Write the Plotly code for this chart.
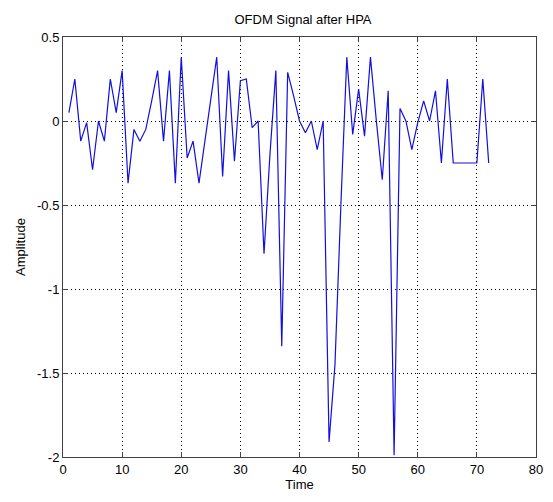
import plotly.graph_objects as go

time = list(range(1, 73))
amplitude = [
    0.05, 0.25, -0.12, -0.01, -0.29, 0.0, -0.12, 0.25, 0.05, 0.30,
    -0.37, -0.05, -0.12, -0.05, 0.12, 0.30, -0.12, 0.30, -0.37, 0.38,
    -0.22, -0.12, -0.37, -0.11, 0.13, 0.38, -0.33, 0.30, -0.24, 0.24,
    0.25, -0.04, 0.0, -0.79, -0.20, 0.30, -1.34, 0.29, 0.15, 0.0,
    -0.07, 0.0, -0.17, 0.0, -1.91, -1.45, -0.50, 0.38, -0.08, 0.19,
    -0.09, 0.38, 0.0, -0.35, 0.18, -1.99, 0.075, 0.0, -0.17, -0.01,
    0.12, 0.0, 0.18, -0.25, 0.25, -0.25, -0.25, -0.25, -0.25, -0.25,
    0.25, -0.25,
]
x_ticks = [0, 10, 20, 30, 40, 50, 60, 70, 80]
y_ticks = [0.5, 0, -0.5, -1, -1.5, -2]
y_tick_text = ["0.5", "0", "-0.5", "-1", "-1.5", "-2"]

fig = go.Figure()
fig.add_trace(go.Scatter(x=time, y=amplitude, mode="lines",
                         line=dict(color="#1010e0", width=1.2), showlegend=False))

font = dict(family="Liberation Sans, Arial, sans-serif", size=13, color="#000000")
axis_common = dict(
    showline=True, linecolor="#404040", linewidth=1, mirror="ticks",
    ticks="inside", ticklen=5, tickcolor="#404040",
    showgrid=True, gridcolor="#000000", gridwidth=1, griddash="1px,3px",
    zeroline=False, tickfont=font,
)
fig.update_xaxes(range=[0, 80], tickvals=x_ticks,
                 title=dict(text="Time", font=font, standoff=4), **axis_common)
fig.update_yaxes(range=[-2, 0.5], tickvals=y_ticks, ticktext=y_tick_text,
                 title=dict(text="Amplitude", font=font, standoff=8), **axis_common)

fig.update_layout(
    width=553, height=502,
    margin=dict(l=63, r=10, t=37, b=45),
    paper_bgcolor="#ffffff", plot_bgcolor="#ffffff",
    title=dict(text="OFDM Signal after HPA", font=font, x=(63 + 543) / 2 / 553,
               xanchor="center", y=1 - 19 / 502, yanchor="middle"),
)
fig.write_html("out.html")
